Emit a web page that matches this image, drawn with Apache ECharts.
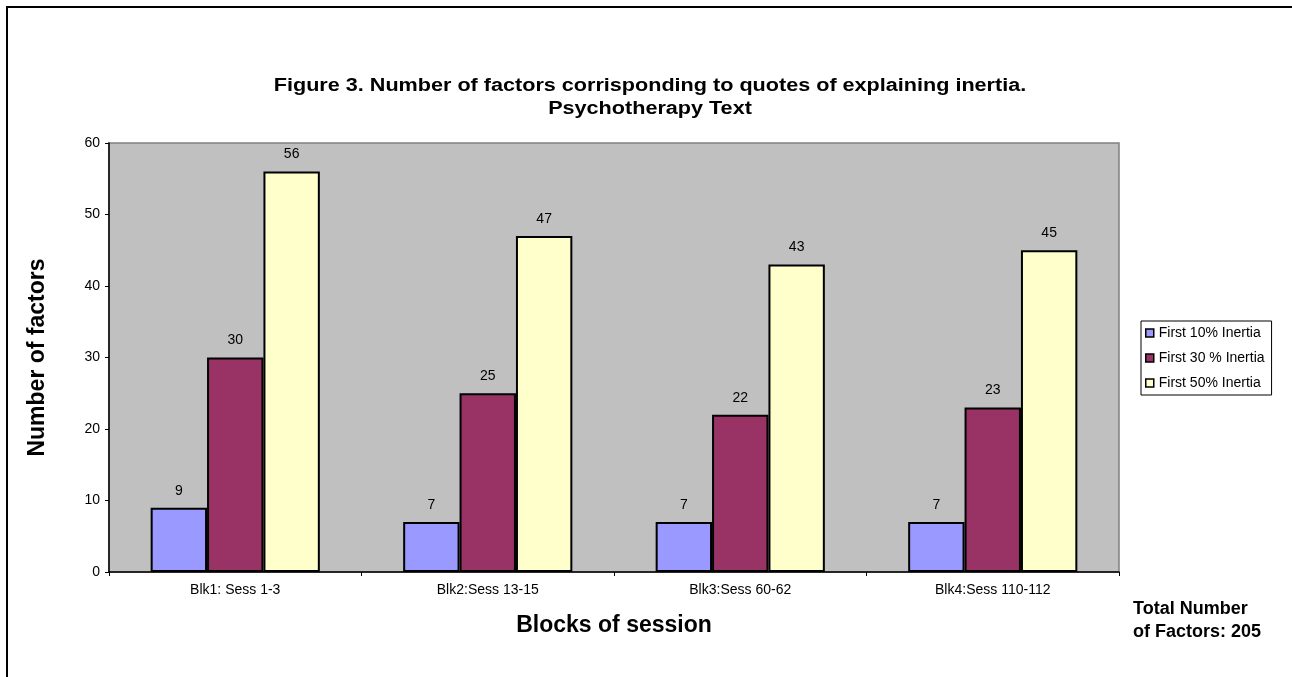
<!DOCTYPE html>
<html>
<head>
<meta charset="utf-8">
<script src="https://cdn.jsdelivr.net/npm/echarts@6/dist/echarts.min.js"></script>
<style>
  html, body { margin: 0; padding: 0; background: #fff; }
  #chart { width: 1292px; height: 677px; }
</style>
</head>
<body>
<div id="chart"></div>
<script>
// Blocks of sessions and number of factors per inertia threshold
const categories = ['Blk1: Sess 1-3', 'Blk2:Sess 13-15', 'Blk3:Sess 60-62', 'Blk4:Sess 110-112'];
const seriesNames = ['First 10% Inertia', 'First 30 % Inertia', 'First 50% Inertia'];
const first10 = [9, 7, 7, 7];
const first30 = [30, 25, 22, 23];
const first50 = [56, 47, 43, 45];
const yTicks = { min: 0, max: 60, interval: 10 };

const titleText = 'Figure 3. Number of factors corrisponding to quotes of explaining inertia.\nPsychotherapy Text';
const totalText = 'Total Number\nof Factors: 205';

const FONT = 'Liberation Sans, Arial, sans-serif';
const colors = ['#9999FF', '#993366', '#FFFFCC'];

const chart = echarts.init(document.getElementById('chart'), null, { renderer: 'canvas' });

function barSeries(name, data, color) {
  return {
    name: name,
    type: 'bar',
    data: data,
    barGap: '0%',
    barCategoryGap: '33%',
    itemStyle: { color: color, borderColor: '#000', borderWidth: 2 },
    label: {
      show: true,
      position: 'top',
      distance: 10,
      color: '#000',
      fontFamily: FONT,
      fontSize: 14
    }
  };
}

chart.setOption({
  animation: false,
  backgroundColor: '#fff',
  legend: {
    orient: 'vertical',
    left: 1141,
    top: 321,
    itemWidth: 8,
    itemHeight: 8,
    itemGap: 11,
    padding: [5, 7, 5, 4],
    borderColor: '#000',
    borderWidth: 1,
    backgroundColor: '#fff',
    icon: 'rect',
    selectedMode: false,
    itemStyle: { borderColor: '#000', borderWidth: 1.5 },
    textStyle: { fontFamily: FONT, fontSize: 14, color: '#000', lineHeight: 14 },
    data: seriesNames
  },
  grid: {
    left: 109,
    top: 143,
    right: 173,
    bottom: 105,
    show: true,
    backgroundColor: '#C0C0C0',
    borderColor: '#808080',
    borderWidth: 1.5
  },
  xAxis: {
    type: 'category',
    data: categories,
    name: 'Blocks of session',
    nameLocation: 'middle',
    nameGap: 42,
    nameTextStyle: { fontFamily: FONT, fontSize: 23, fontWeight: 'bold', color: '#000' },
    axisLine: { lineStyle: { color: '#000', width: 1.5 } },
    axisTick: { show: true, alignWithLabel: false, length: 4, lineStyle: { color: '#000' } },
    axisLabel: { fontFamily: FONT, fontSize: 14, color: '#000', margin: 11 }
  },
  yAxis: {
    type: 'value',
    min: yTicks.min,
    max: yTicks.max,
    interval: yTicks.interval,
    name: 'Number of factors',
    nameLocation: 'middle',
    nameGap: 60,
    nameTextStyle: { fontFamily: FONT, fontSize: 23, fontWeight: 'bold', color: '#000' },
    axisLine: { show: true, lineStyle: { color: '#000', width: 1.5 } },
    axisTick: { show: true, length: 4, lineStyle: { color: '#000' } },
    axisLabel: { fontFamily: FONT, fontSize: 14, color: '#000', margin: 9 },
    splitLine: { show: false }
  },
  series: [
    barSeries(seriesNames[0], first10, colors[0]),
    barSeries(seriesNames[1], first30, colors[1]),
    barSeries(seriesNames[2], first50, colors[2])
  ],
  graphic: [
    {
      // outer frame of the chart area
      type: 'rect',
      shape: { x: 7, y: 7, width: 1400, height: 800 },
      style: { fill: null, stroke: '#000', lineWidth: 2 },
      silent: true
    },
    {
      // two-line heading, slightly widened
      type: 'text',
      x: 650,
      y: 75,
      scaleX: 1.2,
      style: {
        text: titleText,
        align: 'center',
        verticalAlign: 'top',
        fontFamily: FONT,
        fontSize: 18,
        fontWeight: 'bold',
        fill: '#000',
        lineHeight: 23
      },
      silent: true
    },
    {
      type: 'text',
      left: 1133,
      top: 598,
      style: {
        text: totalText,
        fontFamily: FONT,
        fontSize: 18,
        fontWeight: 'bold',
        fill: '#000',
        lineHeight: 23
      },
      silent: true
    }
  ]
});
</script>
</body>
</html>
